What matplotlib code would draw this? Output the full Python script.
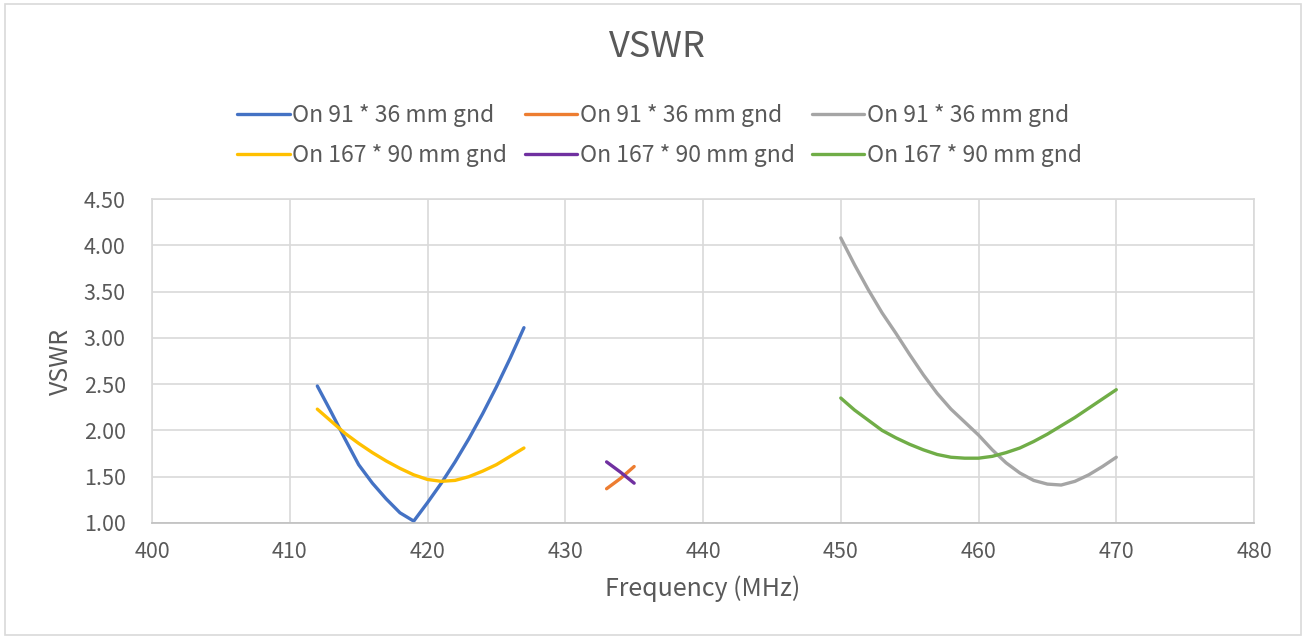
import matplotlib
matplotlib.use('Agg')
import matplotlib.pyplot as plt
from matplotlib.patches import Rectangle

plt.rcParams['font.family'] = ['Noto Sans CJK SC', 'DejaVu Sans']

# data (MHz, VSWR)
f_small_low = [412, 413, 414, 415, 416, 417, 418, 419, 420, 421, 422, 423, 424, 425, 426, 427]
vswr_small_low = [2.48, 2.20, 1.91, 1.63, 1.43, 1.26, 1.11, 1.02, 1.22, 1.43, 1.66, 1.91, 2.18, 2.47, 2.78, 3.11]
vswr_big_low = [2.23, 2.10, 1.97, 1.86, 1.76, 1.67, 1.59, 1.52, 1.47, 1.45, 1.46, 1.50, 1.56, 1.63, 1.72, 1.81]

f_mid = [433, 434, 435]
vswr_small_mid = [1.37, 1.48, 1.61]
vswr_big_mid = [1.66, 1.55, 1.43]

f_high = [450, 451, 452, 453, 454, 455, 456, 457, 458, 459, 460,
          461, 462, 463, 464, 465, 466, 467, 468, 469, 470]
vswr_small_high = [4.08, 3.79, 3.52, 3.27, 3.05, 2.82, 2.60, 2.40, 2.23, 2.09, 1.95,
                   1.79, 1.65, 1.54, 1.46, 1.42, 1.41, 1.45, 1.52, 1.61, 1.71]
vswr_big_high = [2.35, 2.22, 2.11, 2.00, 1.92, 1.85, 1.79, 1.74, 1.71, 1.70, 1.70,
                 1.72, 1.76, 1.81, 1.88, 1.96, 2.05, 2.14, 2.24, 2.34, 2.44]

lbl_small = 'On 91 * 36 mm gnd'
lbl_big = 'On 167 * 90 mm gnd'

txt = '#595959'
grid = '#D9D9D9'

fig = plt.figure(figsize=(13.06, 6.38), dpi=100)
ax = fig.add_axes([0.1164, 0.1803, 0.8438, 0.5077])

lw = 2.4
h1, = ax.plot(f_small_low, vswr_small_low, color='#4472C4', lw=lw, label=lbl_small,
              solid_capstyle='round', solid_joinstyle='round')
h2, = ax.plot(f_mid, vswr_small_mid, color='#ED7D31', lw=lw, label=lbl_small,
              solid_capstyle='round', solid_joinstyle='round')
h3, = ax.plot(f_high, vswr_small_high, color='#A5A5A5', lw=lw, label=lbl_small,
              solid_capstyle='round', solid_joinstyle='round')
h4, = ax.plot(f_small_low, vswr_big_low, color='#FFC000', lw=lw, label=lbl_big,
              solid_capstyle='round', solid_joinstyle='round')
h5, = ax.plot(f_mid, vswr_big_mid, color='#7030A0', lw=lw, label=lbl_big,
              solid_capstyle='round', solid_joinstyle='round')
h6, = ax.plot(f_high, vswr_big_high, color='#70AD47', lw=lw, label=lbl_big,
              solid_capstyle='round', solid_joinstyle='round')

ax.set_xlim(400, 480)
ax.set_ylim(1.0, 4.5)
ax.set_xticks(range(400, 481, 10))
ax.set_yticks([1.0 + 0.5 * i for i in range(8)])
ax.set_yticklabels(['%.2f' % (1.0 + 0.5 * i) for i in range(8)])
ax.tick_params(length=0, labelsize=15.5, colors=txt)
ax.tick_params(axis='x', pad=13)
ax.tick_params(axis='y', pad=19)
ax.grid(True, color=grid, lw=1.2)
ax.set_axisbelow(True)
for s in ax.spines.values():
    s.set_color(grid)
    s.set_linewidth(1.2)
ax.spines['bottom'].set_color('#BFBFBF')

ax.set_xlabel('Frequency (MHz)', fontsize=18, color=txt, labelpad=9)
ax.set_ylabel('VSWR', fontsize=18, color=txt, labelpad=7)

fig.text(0.503, 0.927, 'VSWR', ha='center', va='center', fontsize=26, color=txt)

# column-major fill -> rows: blue/orange/gray, yellow/purple/green
fig.legend([h1, h4, h2, h5, h3, h6], [lbl_small, lbl_big, lbl_small, lbl_big, lbl_small, lbl_big],
           ncol=3, loc='center', bbox_to_anchor=(0.505, 0.788), frameon=False,
           fontsize=16.5, labelcolor=txt, handlelength=2.3, handletextpad=0.1,
           columnspacing=0.75, labelspacing=0.75)

fig.patches.append(Rectangle((0.004, 0.004), 0.992, 0.99, transform=fig.transFigure,
                             fill=False, edgecolor='#D9D9D9', lw=1.2))

fig.savefig('out.png', dpi=100)
